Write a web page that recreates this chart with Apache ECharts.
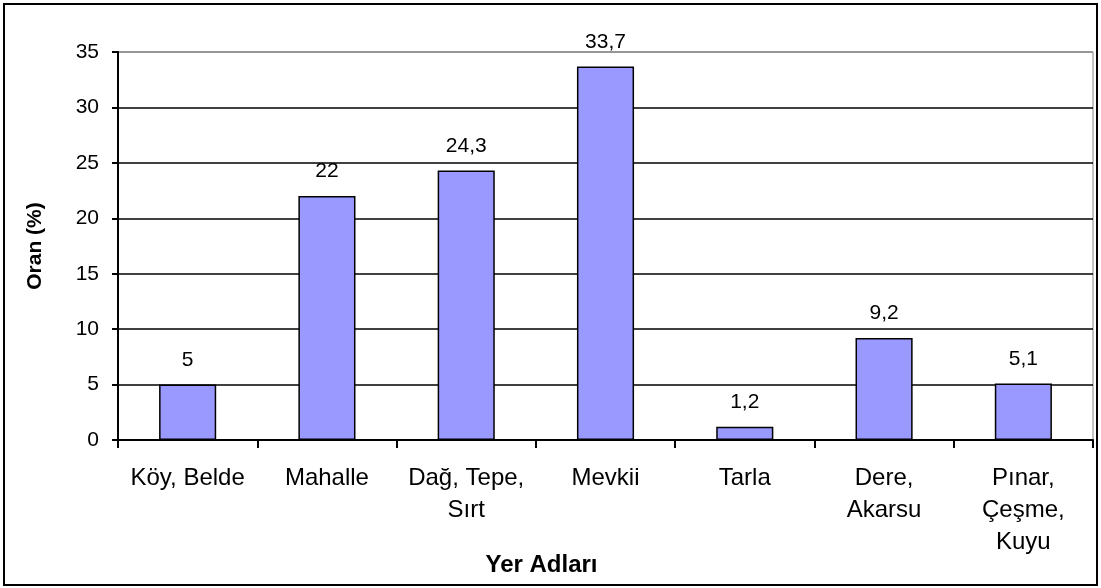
<!DOCTYPE html>
<html>
<head>
<meta charset="utf-8">
<script src="https://cdn.jsdelivr.net/npm/echarts@6/dist/echarts.min.js"></script>
<style>
  html, body { margin: 0; padding: 0; background: #fff; }
  #chart { width: 1101px; height: 588px; }
</style>
</head>
<body>
<div id="chart"></div>
<script>
// yer adları kategorileri ve oranlar (%)
var categories = ['Köy, Belde', 'Mahalle', 'Dağ, Tepe,\nSırt', 'Mevkii', 'Tarla', 'Dere,\nAkarsu', 'Pınar,\nÇeşme,\nKuyu'];
var values = [5, 22, 24.3, 33.7, 1.2, 9.2, 5.1];
var yTicks = [0, 5, 10, 15, 20, 25, 30, 35];

var myChart = echarts.init(document.getElementById('chart'));
var font = 'Liberation Sans, Arial, sans-serif';

var option = {
    animation: false,
    backgroundColor: '#fff',
    graphic: [{
        type: 'rect',
        shape: {x: 4, y: 4, width: 1093, height: 581},
        style: {fill: 'none', stroke: '#000', lineWidth: 2},
        silent: true
    }],
    grid: {
        left: 118,
        right: 8,
        top: 52,
        bottom: 148,
        show: true,
        borderColor: '#888',
        borderWidth: 1
    },
    xAxis: {
        type: 'category',
        data: categories,
        name: 'Yer Adları',
        nameLocation: 'middle',
        nameGap: 113,
        nameMoveOverlap: false,
        nameTextStyle: {
            fontFamily: font, fontSize: 24, fontWeight: 'bold', color: '#000',
            padding: [0, 128, 0, 0]
        },
        axisLine: {lineStyle: {color: '#000', width: 2}},
        axisTick: {show: true, length: 8, lineStyle: {color: '#000', width: 2}},
        axisLabel: {
            interval: 0,
            margin: 22,
            fontFamily: font,
            fontSize: 24,
            lineHeight: 32,
            color: '#000'
        }
    },
    yAxis: {
        type: 'value',
        min: yTicks[0],
        max: yTicks[yTicks.length - 1],
        interval: 5,
        name: 'Oran (%)',
        nameLocation: 'middle',
        nameGap: 72,
        nameMoveOverlap: false,
        nameTextStyle: {fontFamily: font, fontSize: 21, fontWeight: 'bold', color: '#000'},
        axisLine: {show: true, lineStyle: {color: '#000', width: 2}},
        axisTick: {show: true, length: 6, lineStyle: {color: '#000', width: 2}},
        axisLabel: {margin: 19, fontFamily: font, fontSize: 21, color: '#000'},
        splitLine: {
            show: true,
            lineStyle: {
                color: ['#000', '#000', '#000', '#000', '#000', '#000', '#000', '#888'],
                width: 1.5
            }
        }
    },
    series: [{
        type: 'bar',
        data: values,
        barWidth: '41%',
        itemStyle: {color: '#9999FF', borderColor: '#000', borderWidth: 1.5},
        label: {
            show: true,
            position: 'top',
            distance: 14,
            fontFamily: font,
            fontSize: 21,
            color: '#000',
            formatter: function (p) {
                return String(p.value).replace('.', ',');
            }
        }
    }]
};

myChart.setOption(option);
window.addEventListener('resize', function () {
    myChart.resize();
});
</script>
</body>
</html>
